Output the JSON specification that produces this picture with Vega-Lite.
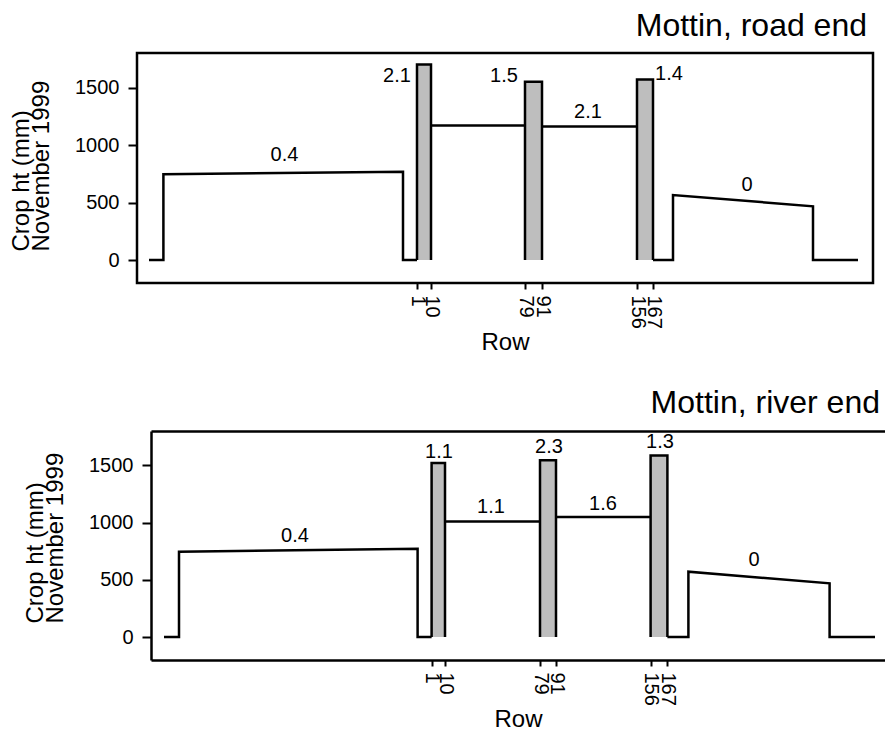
{
  "$schema": "https://vega.github.io/schema/vega-lite/v6.json",
  "padding": {"left": 7, "top": 8, "right": 0, "bottom": 0},
  "spacing": 31,
  "config": {
    "font": "Liberation Sans",
    "axis": {"labelFontSize": 20, "titleFontSize": 24, "titleFontWeight": "normal", "labelColor": "black", "titleColor": "black", "tickColor": "black", "tickWidth": 2, "domainColor": "black", "domainWidth": 2.5, "grid": false},
    "title": {"fontSize": 32, "fontWeight": "normal", "color": "black"}
  },
  "datasets": {
    "profile": [
      {"panel": "road", "seg": "a", "i": 1, "pos": 6, "ht": 0},
      {"panel": "road", "seg": "a", "i": 2, "pos": 13.2, "ht": 0},
      {"panel": "road", "seg": "a", "i": 3, "pos": 13.2, "ht": 745},
      {"panel": "road", "seg": "a", "i": 4, "pos": 133, "ht": 768},
      {"panel": "road", "seg": "a", "i": 5, "pos": 133, "ht": 0},
      {"panel": "road", "seg": "a", "i": 6, "pos": 140, "ht": 0},
      {"panel": "road", "seg": "b1", "i": 1, "pos": 140, "ht": 0},
      {"panel": "road", "seg": "b1", "i": 2, "pos": 140, "ht": 1700},
      {"panel": "road", "seg": "b1", "i": 3, "pos": 147, "ht": 1700},
      {"panel": "road", "seg": "b1", "i": 4, "pos": 147, "ht": 0},
      {"panel": "road", "seg": "b", "i": 1, "pos": 147, "ht": 1170},
      {"panel": "road", "seg": "b", "i": 2, "pos": 194, "ht": 1170},
      {"panel": "road", "seg": "b2", "i": 1, "pos": 194, "ht": 0},
      {"panel": "road", "seg": "b2", "i": 2, "pos": 194, "ht": 1550},
      {"panel": "road", "seg": "b2", "i": 3, "pos": 202.5, "ht": 1550},
      {"panel": "road", "seg": "b2", "i": 4, "pos": 202.5, "ht": 0},
      {"panel": "road", "seg": "c", "i": 1, "pos": 202.5, "ht": 1160},
      {"panel": "road", "seg": "c", "i": 2, "pos": 250, "ht": 1160},
      {"panel": "road", "seg": "b3", "i": 1, "pos": 250, "ht": 0},
      {"panel": "road", "seg": "b3", "i": 2, "pos": 250, "ht": 1570},
      {"panel": "road", "seg": "b3", "i": 3, "pos": 258, "ht": 1570},
      {"panel": "road", "seg": "b3", "i": 4, "pos": 258, "ht": 0},
      {"panel": "road", "seg": "d", "i": 1, "pos": 258, "ht": 0},
      {"panel": "road", "seg": "d", "i": 2, "pos": 268, "ht": 0},
      {"panel": "road", "seg": "d", "i": 3, "pos": 268, "ht": 565},
      {"panel": "road", "seg": "d", "i": 4, "pos": 338, "ht": 467},
      {"panel": "road", "seg": "d", "i": 5, "pos": 338, "ht": 0},
      {"panel": "road", "seg": "d", "i": 6, "pos": 360.5, "ht": 0},
      {"panel": "river", "seg": "a", "i": 1, "pos": 6.5, "ht": 0},
      {"panel": "river", "seg": "a", "i": 2, "pos": 14, "ht": 0},
      {"panel": "river", "seg": "a", "i": 3, "pos": 14, "ht": 746},
      {"panel": "river", "seg": "a", "i": 4, "pos": 133.3, "ht": 772},
      {"panel": "river", "seg": "a", "i": 5, "pos": 133.3, "ht": 0},
      {"panel": "river", "seg": "a", "i": 6, "pos": 140.3, "ht": 0},
      {"panel": "river", "seg": "b1", "i": 1, "pos": 140.3, "ht": 0},
      {"panel": "river", "seg": "b1", "i": 2, "pos": 140.3, "ht": 1520},
      {"panel": "river", "seg": "b1", "i": 3, "pos": 147, "ht": 1520},
      {"panel": "river", "seg": "b1", "i": 4, "pos": 147, "ht": 0},
      {"panel": "river", "seg": "b", "i": 1, "pos": 147, "ht": 1010},
      {"panel": "river", "seg": "b", "i": 2, "pos": 194.5, "ht": 1010},
      {"panel": "river", "seg": "b2", "i": 1, "pos": 194.5, "ht": 0},
      {"panel": "river", "seg": "b2", "i": 2, "pos": 194.5, "ht": 1545},
      {"panel": "river", "seg": "b2", "i": 3, "pos": 202.5, "ht": 1545},
      {"panel": "river", "seg": "b2", "i": 4, "pos": 202.5, "ht": 0},
      {"panel": "river", "seg": "c", "i": 1, "pos": 202.5, "ht": 1050},
      {"panel": "river", "seg": "c", "i": 2, "pos": 249.8, "ht": 1050},
      {"panel": "river", "seg": "b3", "i": 1, "pos": 249.8, "ht": 0},
      {"panel": "river", "seg": "b3", "i": 2, "pos": 249.8, "ht": 1585},
      {"panel": "river", "seg": "b3", "i": 3, "pos": 258.2, "ht": 1585},
      {"panel": "river", "seg": "b3", "i": 4, "pos": 258.2, "ht": 0},
      {"panel": "river", "seg": "d", "i": 1, "pos": 258.2, "ht": 0},
      {"panel": "river", "seg": "d", "i": 2, "pos": 268.7, "ht": 0},
      {"panel": "river", "seg": "d", "i": 3, "pos": 268.7, "ht": 571},
      {"panel": "river", "seg": "d", "i": 4, "pos": 339.3, "ht": 470},
      {"panel": "river", "seg": "d", "i": 5, "pos": 339.3, "ht": 0},
      {"panel": "river", "seg": "d", "i": 6, "pos": 362, "ht": 0}
    ],
    "bars": [
      {"panel": "road", "pos": 140, "pos2": 147, "ht": 1700},
      {"panel": "road", "pos": 194, "pos2": 202.5, "ht": 1550},
      {"panel": "road", "pos": 250, "pos2": 258, "ht": 1570},
      {"panel": "river", "pos": 140.3, "pos2": 147, "ht": 1520},
      {"panel": "river", "pos": 194.5, "pos2": 202.5, "ht": 1545},
      {"panel": "river", "pos": 249.8, "pos2": 258.2, "ht": 1585}
    ],
    "labels": [
      {"panel": "road", "pos": 73.75, "ht": 915, "label": "0.4"},
      {"panel": "road", "pos": 130, "ht": 1600, "label": "2.1"},
      {"panel": "road", "pos": 183.5, "ht": 1600, "label": "1.5"},
      {"panel": "road", "pos": 225.5, "ht": 1287, "label": "2.1"},
      {"panel": "road", "pos": 266, "ht": 1617, "label": "1.4"},
      {"panel": "road", "pos": 305, "ht": 652, "label": "0"},
      {"panel": "river", "pos": 72, "ht": 882, "label": "0.4"},
      {"panel": "river", "pos": 144, "ht": 1614, "label": "1.1"},
      {"panel": "river", "pos": 199, "ht": 1657, "label": "2.3"},
      {"panel": "river", "pos": 254.5, "ht": 1704, "label": "1.3"},
      {"panel": "river", "pos": 170, "ht": 1135, "label": "1.1"},
      {"panel": "river", "pos": 226, "ht": 1161, "label": "1.6"},
      {"panel": "river", "pos": 301.5, "ht": 673, "label": "0"}
    ]
  },
  "vconcat": [
    {
      "width": 736,
      "height": 230,
      "view": {"stroke": "black", "strokeWidth": 2.5},
      "title": {"text": "Mottin, road end", "anchor": "end", "frame": "group", "baseline": "alphabetic", "offset": -15, "dx": -6},
      "encoding": {
        "x": {"field": "pos", "type": "quantitative", "scale": {"domain": [0, 368], "nice": false, "zero": false},
          "axis": {"title": "Row", "values": [140, 147, 194, 202.5, 250, 258], "labelExpr": "datum.value < 143 ? '1' : datum.value < 170 ? '10' : datum.value < 198 ? '79' : datum.value < 220 ? '91' : datum.value < 254 ? '156' : '167'", "labelAngle": 90, "labelFontSize": 20, "labelOverlap": false, "labelFlush": false, "tickSize": 6, "labelPadding": 6, "titlePadding": 2, "domain": false}},
        "y": {"field": "ht", "type": "quantitative", "scale": {"domain": [-200, 1800], "nice": false, "zero": false},
          "axis": {"title": ["Crop ht (mm)", "November 1999"], "values": [0, 500, 1000, 1500], "format": "d", "tickSize": 9, "labelPadding": 9, "domain": false, "titleAngle": -90, "titleAlign": "left", "titleBaseline": "top", "titleX": -128, "titleY": 198, "titleLineHeight": 20}}
      },
      "layer": [
        {"data": {"name": "bars"}, "transform": [{"filter": "datum.panel == 'road'"}],
          "mark": {"type": "rect", "fill": "#bebebe"},
          "encoding": {"x2": {"field": "pos2"}, "y2": {"datum": 0}}},
        {"data": {"name": "profile"}, "transform": [{"filter": "datum.panel == 'road'"}],
          "mark": {"type": "line", "color": "black", "strokeWidth": 2.5, "strokeJoin": "miter"},
          "encoding": {"detail": {"field": "seg"}, "order": {"field": "i", "type": "quantitative"}}},
        {"data": {"name": "labels"}, "transform": [{"filter": "datum.panel == 'road'"}],
          "mark": {"type": "text", "fontSize": 20, "baseline": "middle", "align": "center", "color": "black"},
          "encoding": {"text": {"field": "label"}}}
      ]
    },
    {
      "width": 748,
      "height": 229,
      "view": {"stroke": null},
      "title": {"text": "Mottin, river end", "anchor": "end", "frame": "group", "baseline": "alphabetic", "offset": -14, "dx": -5},
      "resolve": {"axis": {"x": "independent"}},
      "encoding": {
        "y": {"field": "ht", "type": "quantitative", "scale": {"domain": [-200, 1800], "nice": false, "zero": false},
          "axis": {"title": ["Crop ht (mm)", "November 1999"], "values": [0, 500, 1000, 1500], "format": "d", "offset": -14, "tickSize": 9, "labelPadding": 9, "domain": true, "titleAngle": -90, "titleAlign": "left", "titleBaseline": "top", "titleX": -128, "titleY": 192, "titleLineHeight": 20}}
      },
      "layer": [
        {"data": {"name": "bars"}, "transform": [{"filter": "datum.panel == 'river'"}],
          "mark": {"type": "rect", "fill": "#bebebe"},
          "encoding": {
            "x": {"field": "pos", "type": "quantitative", "scale": {"domain": [0, 367], "range": [14, 748], "nice": false, "zero": false},
              "axis": {"title": "Row", "values": [140.3, 147, 194.5, 202.5, 249.8, 258.2], "labelExpr": "datum.value < 143 ? '1' : datum.value < 170 ? '10' : datum.value < 198 ? '79' : datum.value < 220 ? '91' : datum.value < 254 ? '156' : '167'", "labelAngle": 90, "labelFontSize": 20, "labelOverlap": false, "labelFlush": false, "tickSize": 6, "labelPadding": 6, "titlePadding": 2, "domain": true}},
            "x2": {"field": "pos2"}, "y2": {"datum": 0}}},
        {"data": {"name": "profile"}, "transform": [{"filter": "datum.panel == 'river'"}],
          "mark": {"type": "line", "color": "black", "strokeWidth": 2.5, "strokeJoin": "miter"},
          "encoding": {
            "x": {"field": "pos", "type": "quantitative", "scale": {"domain": [0, 367], "range": [14, 748], "nice": false, "zero": false}, "axis": null},
            "detail": {"field": "seg"}, "order": {"field": "i", "type": "quantitative"}}},
        {"data": {"name": "labels"}, "transform": [{"filter": "datum.panel == 'river'"}],
          "mark": {"type": "text", "fontSize": 20, "baseline": "middle", "align": "center", "color": "black"},
          "encoding": {
            "x": {"field": "pos", "type": "quantitative", "scale": {"domain": [0, 367], "range": [14, 748], "nice": false, "zero": false},
              "axis": {"orient": "top", "labels": false, "ticks": false, "title": null, "domain": true}},
            "text": {"field": "label"}}}
      ]
    }
  ]
}
